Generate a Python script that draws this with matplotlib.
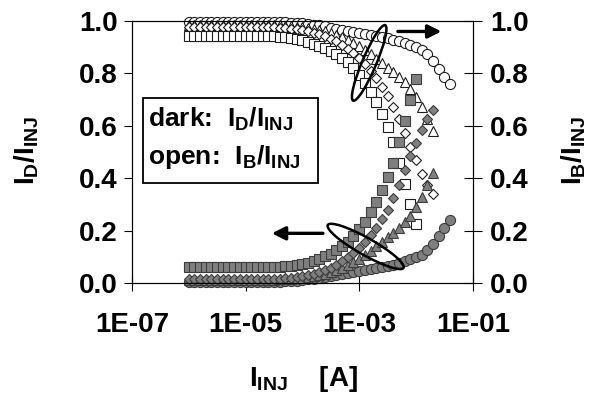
import matplotlib
matplotlib.use('Agg')
import matplotlib.pyplot as plt
from matplotlib.patches import Ellipse, Rectangle
from matplotlib.transforms import ScaledTranslation

plt.rcParams['font.family'] = 'Liberation Sans'
plt.rcParams['font.weight'] = 'bold'
plt.rcParams['mathtext.fontset'] = 'custom'
plt.rcParams['mathtext.rm'] = 'Liberation Sans:bold'
plt.rcParams['mathtext.it'] = 'Liberation Sans:bold'
plt.rcParams['mathtext.bf'] = 'Liberation Sans:bold'

# log10 of injected current, one point every 0.1 decade
log_iinj = [-6.0, -5.9, -5.8, -5.7, -5.6, -5.5, -5.4, -5.3, -5.2, -5.1,
            -5.0, -4.9, -4.8, -4.7, -4.6, -4.5, -4.4, -4.3, -4.2, -4.1,
            -4.0, -3.9, -3.8, -3.7, -3.6, -3.5, -3.4, -3.3, -3.2, -3.1,
            -3.0, -2.9, -2.8, -2.7, -2.6, -2.5, -2.4, -2.3, -2.2, -2.1,
            -2.0, -1.9, -1.8, -1.7, -1.6, -1.5, -1.4]
iinj = [10 ** v for v in log_iinj]

# dark: I_D/I_INJ (left axis, gray markers)
dark_square = [0.060] * 15 + [0.061, 0.062, 0.064, 0.066, 0.069, 0.073, 0.078, 0.085, 0.093, 0.102,
                              0.112, 0.125, 0.140, 0.158, 0.180, 0.205, 0.235, 0.270, 0.310, 0.355,
                              0.405, 0.460, 0.540, 0.620, 0.700, 0.780]
dark_diamond = [0.015] * 15 + [0.016, 0.017, 0.019, 0.021, 0.024, 0.027, 0.031, 0.036, 0.042, 0.050,
                               0.059, 0.070, 0.083, 0.098, 0.115, 0.135, 0.157, 0.182, 0.210, 0.243,
                               0.280, 0.325, 0.375, 0.430, 0.485, 0.535, 0.585, 0.625, 0.660]
dark_triangle = [0.012] * 15 + [0.013, 0.014, 0.015, 0.017, 0.019, 0.021, 0.024, 0.027, 0.031, 0.036,
                                0.042, 0.049, 0.058, 0.068, 0.080, 0.093, 0.108, 0.124, 0.141, 0.158,
                                0.175, 0.192, 0.210, 0.232, 0.258, 0.290, 0.330, 0.375, 0.420]
dark_circle = [0.005] * 16 + [0.006, 0.007, 0.008, 0.009, 0.012, 0.014, 0.017, 0.020, 0.024, 0.028,
                              0.031, 0.034, 0.037, 0.041, 0.045, 0.049, 0.053, 0.057, 0.061, 0.065,
                              0.070, 0.076, 0.083, 0.091, 0.099, 0.109, 0.126, 0.150, 0.180, 0.210,
                              0.240]

# open: I_B/I_INJ (right axis, white markers)
open_square = [0.942] * 15 + [0.941, 0.940, 0.938, 0.935, 0.931, 0.927, 0.921, 0.914, 0.906, 0.897,
                              0.887, 0.875, 0.860, 0.842, 0.820, 0.795, 0.765, 0.730, 0.690, 0.645,
                              0.595, 0.540, 0.460, 0.380, 0.300, 0.225]
open_diamond = [0.977] * 15 + [0.976, 0.975, 0.973, 0.971, 0.968, 0.965, 0.961, 0.956, 0.950, 0.942,
                               0.933, 0.922, 0.909, 0.894, 0.877, 0.857, 0.835, 0.810, 0.782, 0.750,
                               0.714, 0.672, 0.625, 0.572, 0.518, 0.468, 0.418, 0.375, 0.340]
open_triangle = [0.985] * 15 + [0.984, 0.983, 0.982, 0.980, 0.978, 0.976, 0.973, 0.970, 0.966, 0.961,
                                0.955, 0.948, 0.939, 0.929, 0.917, 0.904, 0.889, 0.873, 0.856, 0.839,
                                0.822, 0.805, 0.787, 0.766, 0.741, 0.710, 0.670, 0.625, 0.580]
open_circle = [0.997] * 16 + [0.996, 0.995, 0.994, 0.993, 0.991, 0.989, 0.986, 0.983, 0.979, 0.975,
                              0.971, 0.967, 0.963, 0.959, 0.955, 0.951, 0.947, 0.943, 0.939, 0.934,
                              0.929, 0.923, 0.916, 0.908, 0.900, 0.890, 0.873, 0.848, 0.818, 0.788,
                              0.760]

x_ticks = [1e-7, 1e-5, 1e-3, 1e-1]
x_ticklabels = ['1E-07', '1E-05', '1E-03', '1E-01']
y_ticks = [0.0, 0.2, 0.4, 0.6, 0.8, 1.0]
y_ticklabels = ['0.0', '0.2', '0.4', '0.6', '0.8', '1.0']

fig = plt.figure(figsize=(5.94, 3.96), dpi=100)
ax = fig.add_axes([0.222, 0.285, 0.574, 0.662])
ax2 = ax.twinx()

gray = '#7f7f7f'
gray_edge = '#3c3c3c'
white_edge = '#1e1e1e'

def draw(axis, y, marker, ms, fill, edge):
    axis.plot(iinj[:len(y)], y, linestyle='none', marker=marker, ms=ms,
              mfc=fill, mec=edge, mew=0.8, clip_on=False)

draw(ax2, open_circle, 'o', 7.3, 'white', white_edge)
draw(ax2, open_triangle, '^', 7.8, 'white', white_edge)
draw(ax2, open_diamond, 'D', 5.5, 'white', white_edge)
draw(ax2, open_square, 's', 7, 'white', white_edge)
draw(ax, dark_circle, 'o', 7.3, gray, gray_edge)
draw(ax, dark_triangle, '^', 7.8, gray, gray_edge)
draw(ax, dark_diamond, 'D', 5.5, gray, gray_edge)
draw(ax, dark_square, 's', 7, gray, gray_edge)

for a in (ax, ax2):
    a.set_xscale('log')
    a.set_xlim(1e-7, 1e-1)
    a.set_ylim(0, 1)
    a.set_yticks(y_ticks)
    a.set_yticklabels(y_ticklabels)
    a.minorticks_off()
ax.set_xticks(x_ticks)
ax.set_xticklabels(x_ticklabels)
ax.tick_params(axis='x', direction='inout', length=11, width=0.8, labelsize=20, pad=15)
ax.tick_params(axis='y', direction='out', length=6, width=0.8, labelsize=20, pad=4)
ax2.tick_params(axis='y', direction='inout', length=13, width=0.8, labelsize=20, pad=6)
ax2.set_zorder(ax.get_zorder() - 1)
ax.patch.set_visible(False)

# ellipses and arrows
def ellipse(cx, cy, w, h, angle):
    tr = fig.dpi_scale_trans + ScaledTranslation(cx, cy, ax.transData)
    fig.patches.append(Ellipse((0, 0), w, h, angle=angle, fill=False, lw=1.8,
                               ec='black', transform=tr, figure=fig))

ellipse(1.5e-3, 0.84, 0.82, 0.14, 67)
ellipse(1.3e-3, 0.14, 0.87, 0.17, -29.5)

ax.annotate('', xy=(2.8e-2, 0.96), xytext=(4.8e-3, 0.96),
            arrowprops=dict(arrowstyle='-|>', lw=2.4, color='black', mutation_scale=20,
                            shrinkA=0, shrinkB=0),
            annotation_clip=False)
ax.annotate('', xy=(2.9e-5, 0.19), xytext=(2.3e-4, 0.19),
            arrowprops=dict(arrowstyle='-|>', lw=2.4, color='black', mutation_scale=20,
                            shrinkA=0, shrinkB=0),
            annotation_clip=False)

# text box
fig.patches.append(Rectangle((143 / 594, 1 - 183 / 396), 175 / 594, 85 / 396,
                             fill=True, fc='white', ec='black', lw=1.3,
                             transform=fig.transFigure, figure=fig))
fig.text(148 / 594, 1 - 127 / 396, r'dark:  I$_{\rm D}$/I$_{\rm INJ}$',
         fontsize=19, va='baseline', ha='left')
fig.text(148 / 594, 1 - 164 / 396, r'open:  I$_{\rm B}$/I$_{\rm INJ}$',
         fontsize=19, va='baseline', ha='left')

# axis labels
fig.text(27 / 594, 1 - 150 / 396, r'I$_{\rm D}$/I$_{\rm INJ}$', fontsize=20,
         rotation=90, ha='center', va='center')
fig.text(574 / 594, 1 - 150 / 396, r'I$_{\rm B}$/I$_{\rm INJ}$', fontsize=20,
         rotation=90, ha='center', va='center')
fig.text(303 / 594, 1 - 379 / 396, r'I$_{\rm INJ}$    [A]', fontsize=20,
         ha='center', va='center')

fig.savefig('out.png', dpi=100)
